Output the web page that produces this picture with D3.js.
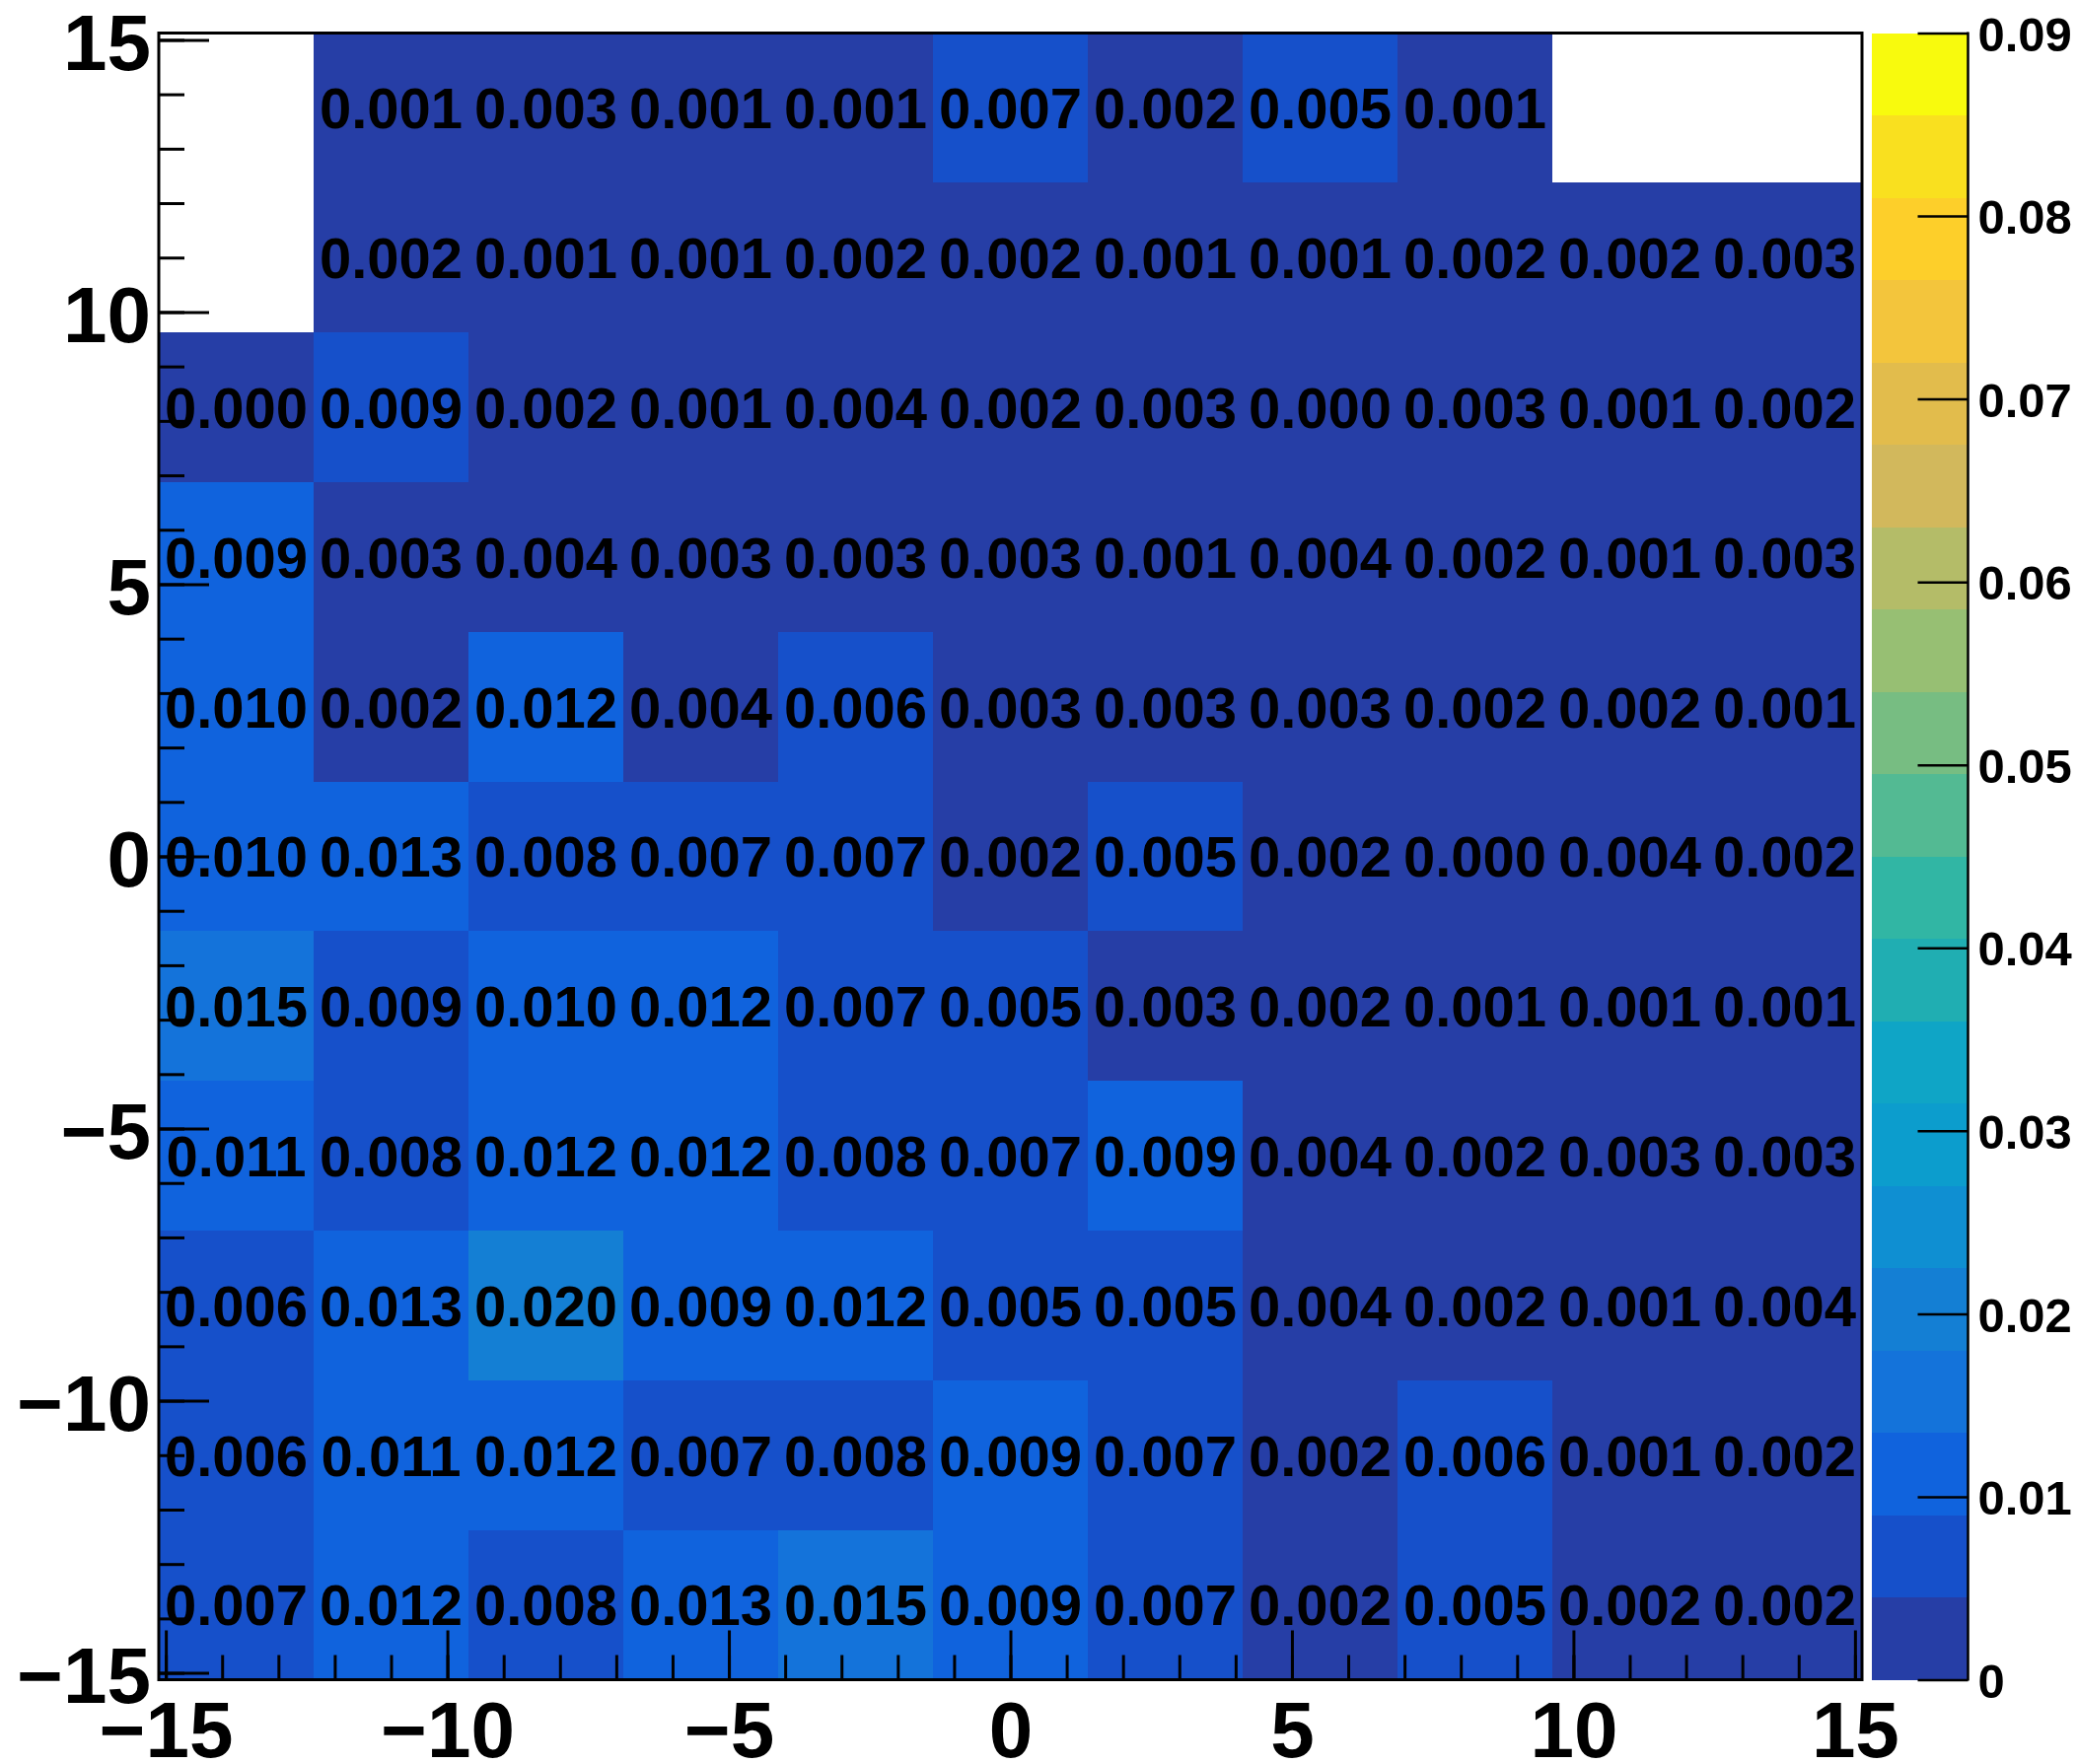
<!DOCTYPE html>
<html>
<head>
<meta charset="utf-8">
<script src="https://cdn.jsdelivr.net/npm/d3@7"></script>
<style>
  html, body { margin: 0; padding: 0; background: #fff; }
  svg { display: block; }
  text { font-family: "Liberation Sans", Arial, Helvetica, sans-serif; font-weight: bold; fill: #000; }
</style>
</head>
<body>
<svg id="chart" width="2106" height="1789"></svg>
<script>
// ---------------- DATA ----------------
// Histogram binning (11 x 11 bins)
const nBinsX = 11, nBinsY = 11;
const xRange = [-15.125, 15.125];
const yRange = [-15.125, 15.125];

// Bin contents, one array per y-bin (bottom row = yBin01), left -> right; null = empty bin
const yBin01 = [0.007, 0.012, 0.008, 0.013, 0.015, 0.0092, 0.007, 0.002, 0.005, 0.002, 0.002];
const yBin02 = [0.006, 0.011, 0.012, 0.007, 0.008, 0.0092, 0.007, 0.002, 0.006, 0.001, 0.002];
const yBin03 = [0.006, 0.013, 0.020, 0.0092, 0.012, 0.005, 0.005, 0.004, 0.002, 0.001, 0.004];
const yBin04 = [0.011, 0.008, 0.012, 0.012, 0.008, 0.007, 0.0092, 0.004, 0.002, 0.003, 0.003];
const yBin05 = [0.015, 0.0088, 0.010, 0.012, 0.007, 0.005, 0.003, 0.002, 0.001, 0.001, 0.001];
const yBin06 = [0.010, 0.013, 0.008, 0.007, 0.007, 0.002, 0.005, 0.002, 0.0003, 0.004, 0.002];
const yBin07 = [0.010, 0.002, 0.012, 0.004, 0.006, 0.003, 0.003, 0.003, 0.002, 0.002, 0.001];
const yBin08 = [0.0092, 0.003, 0.004, 0.003, 0.003, 0.003, 0.001, 0.004, 0.002, 0.001, 0.003];
const yBin09 = [0.0003, 0.0088, 0.002, 0.001, 0.004, 0.002, 0.003, 0.0003, 0.003, 0.001, 0.002];
const yBin10 = [null, 0.002, 0.001, 0.001, 0.002, 0.002, 0.001, 0.001, 0.002, 0.002, 0.003];
const yBin11 = [null, 0.001, 0.003, 0.001, 0.001, 0.007, 0.002, 0.005, 0.001, null, null];

// Tick labels
const xTicks = [-15, -10, -5, 0, 5, 10, 15];
const yTicks = [-15, -10, -5, 0, 5, 10, 15];
const zTicks = [0, 0.01, 0.02, 0.03, 0.04, 0.05, 0.06, 0.07, 0.08, 0.09];
const zRange = [0, 0.09];

// Colour palette (20 contour levels, low -> high)
const palette = ["#263ea6", "#1650ca", "#1063dd", "#1473da", "#147fd4", "#0f8fd2", "#0c9dcd",
                 "#0fa5c6", "#20aeb2", "#31b6a4", "#53ba93", "#77bd82", "#97bf73", "#b4bc68",
                 "#d2b85c", "#e2bc4c", "#f3c53c", "#fdcf2a", "#f9e01f", "#f8fa0d"];

// ---------------- LAYOUT ----------------
const frame = { left: 161, right: 1888, top: 33.5, bottom: 1703.5 };
const pal = { left: 1898, right: 1995.5, top: 33.5, bottom: 1703.5 };

const rows = [yBin01, yBin02, yBin03, yBin04, yBin05, yBin06, yBin07, yBin08, yBin09, yBin10, yBin11];

const svg = d3.select("#chart");

const x = d3.scaleLinear().domain(xRange).range([frame.left, frame.right]);
const y = d3.scaleLinear().domain(yRange).range([frame.bottom, frame.top]);
const z = d3.scaleLinear().domain(zRange).range([pal.bottom, pal.top]);
const color = d3.scaleQuantize().domain(zRange).range(palette);

const bw = (xRange[1] - xRange[0]) / nBinsX;
const bh = (yRange[1] - yRange[0]) / nBinsY;

const cells = [];
rows.forEach((row, j) => row.forEach((v, i) => {
  if (v !== null) cells.push({ i, j, v });
}));

// cells
svg.append("g").selectAll("rect").data(cells).join("rect")
  .attr("x", d => x(xRange[0] + d.i * bw))
  .attr("y", d => y(yRange[0] + (d.j + 1) * bh))
  .attr("width", d => x(xRange[0] + (d.i + 1) * bw) - x(xRange[0] + d.i * bw))
  .attr("height", d => y(yRange[0] + d.j * bh) - y(yRange[0] + (d.j + 1) * bh))
  .attr("fill", d => color(d.v))
  .attr("shape-rendering", "crispEdges");

// cell texts
const fmt = d3.format(".3f");
const cellFs = 58;
svg.append("g").selectAll("text").data(cells).join("text")
  .attr("x", d => x(xRange[0] + (d.i + 0.5) * bw))
  .attr("y", d => y(yRange[0] + (d.j + 0.5) * bh) + 0.36 * cellFs)
  .attr("text-anchor", "middle")
  .style("font-size", cellFs + "px")
  .text(d => fmt(d.v));

// palette bands
const th = [zRange[0], ...color.thresholds(), zRange[1]];
svg.append("g").selectAll("rect").data(palette).join("rect")
  .attr("x", pal.left)
  .attr("width", pal.right - pal.left)
  .attr("y", (c, k) => z(th[k + 1]))
  .attr("height", (c, k) => z(th[k]) - z(th[k + 1]))
  .attr("fill", c => c)
  .attr("shape-rendering", "crispEdges");

// axes
const axisFs = 80;
function styleAxis(g) {
  g.select(".domain").remove();
  g.selectAll(".tick line").attr("stroke", "#000").attr("stroke-width", 3);
}

// x minor ticks
svg.append("g").attr("transform", `translate(0,${frame.bottom})`)
  .call(d3.axisBottom(x).tickValues(d3.range(-15, 16, 1)).tickSize(-25).tickFormat(""))
  .call(styleAxis);
// x major ticks
const gx = svg.append("g").attr("transform", `translate(0,${frame.bottom})`)
  .call(d3.axisBottom(x).tickValues(xTicks).tickSize(-50).tickFormat(d3.format("d")))
  .call(styleAxis);
gx.selectAll(".tick text").attr("y", 78).attr("dy", null)
  .style("font-size", axisFs + "px").attr("font-family", null)
  .attr("font-size", null).attr("fill", "#000");

// y minor ticks
svg.append("g").attr("transform", `translate(${frame.left},0)`)
  .call(d3.axisLeft(y).tickValues(d3.range(-15, 16, 1)).tickSize(-26).tickFormat(""))
  .call(styleAxis);
// y major ticks
const gy = svg.append("g").attr("transform", `translate(${frame.left},0)`)
  .call(d3.axisLeft(y).tickValues(yTicks).tickSize(-51).tickFormat(d3.format("d")))
  .call(styleAxis);
gy.selectAll(".tick text").attr("x", -8).attr("dy", "0.37em")
  .style("font-size", axisFs + "px").attr("font-family", null).attr("font-size", null).attr("fill", "#000");

// palette axis
const zFs = 49;
const gz = svg.append("g").attr("transform", `translate(${pal.right},0)`)
  .call(d3.axisRight(z).tickValues(zTicks).tickSize(-51).tickFormat(d => d === 0 ? "0" : d3.format(".2f")(d)));
gz.select(".domain").remove();
gz.selectAll(".tick line").attr("stroke", "#000").attr("stroke-width", 2.5);
gz.selectAll(".tick text").attr("x", 10).attr("dy", "0.36em")
  .style("font-size", zFs + "px").attr("font-family", null).attr("font-size", null).attr("fill", "#000");
gz.append("line").attr("x1", 0).attr("x2", 0).attr("y1", pal.top - 1).attr("y2", pal.bottom + 1)
  .attr("stroke", "#000").attr("stroke-width", 2.5);

// frame
svg.append("rect")
  .attr("x", frame.left).attr("y", frame.top)
  .attr("width", frame.right - frame.left).attr("height", frame.bottom - frame.top)
  .attr("fill", "none").attr("stroke", "#000").attr("stroke-width", 3);
</script>
</body>
</html>
